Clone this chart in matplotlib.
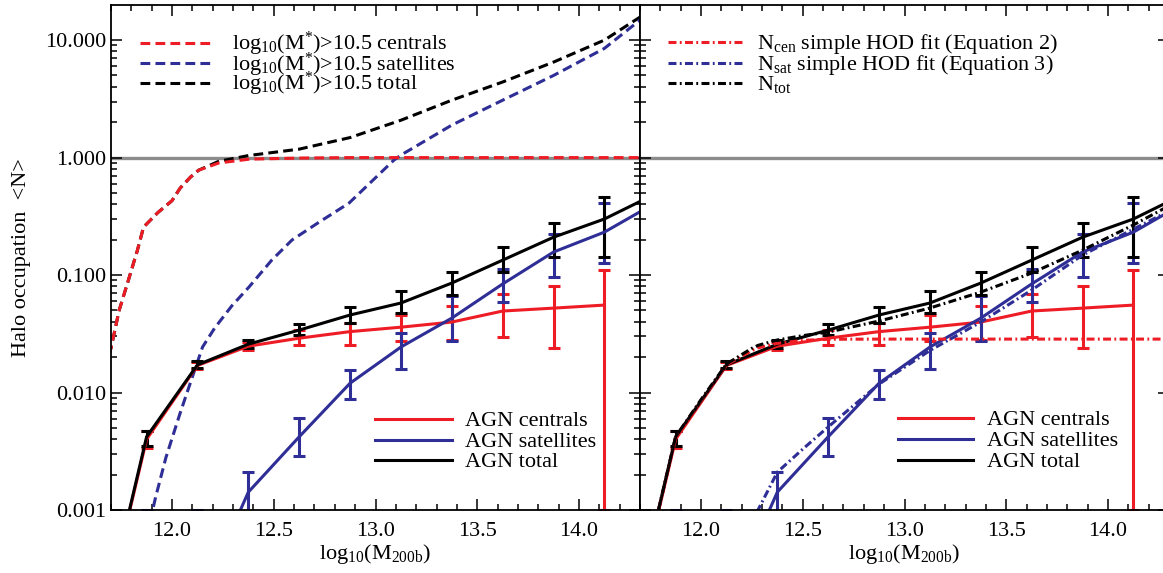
import numpy as np
import matplotlib
matplotlib.use('Agg')
import matplotlib.pyplot as plt
from matplotlib.ticker import FixedLocator, MultipleLocator, LogLocator, NullFormatter, FuncFormatter

plt.rcParams['font.family'] = ['Liberation Serif', 'DejaVu Serif']
plt.rcParams['mathtext.fontset'] = 'custom'
plt.rcParams['mathtext.rm'] = 'Liberation Serif'
plt.rcParams['mathtext.it'] = 'Liberation Serif:italic'
plt.rcParams['font.size'] = 16
plt.rcParams['axes.linewidth'] = 1.3

RED = '#ee1c25'
BLUE = '#2e2e96'
BLACK = '#000000'
GREY = '#8c8c8c'

# AGN halo occupation (bin centres in log10 M200b)
x_agn = [11.625, 11.875, 12.125, 12.375, 12.625, 12.875, 13.125, 13.375, 13.625, 13.875, 14.125, 14.375]
cen_agn = [6e-5, 0.0040, 0.0170, 0.0248, 0.0290, 0.0330, 0.0360, 0.0398, 0.0494, 0.0523, 0.0555, np.nan]
sat_agn = [1e-5, 1e-5, 1.5e-4, 0.00142, 0.0042, 0.0120, 0.0244, 0.0430, 0.0840, 0.157, 0.232, 0.41]
tot_agn = [6e-5, 0.0042, 0.0172, 0.0258, 0.0340, 0.0457, 0.0578, 0.0855, 0.134, 0.210, 0.300, 0.49]

# error bar ranges (low, high) for bins 11.875 ... 14.125
x_err = [11.875, 12.125, 12.375, 12.625, 12.875, 13.125, 13.375, 13.625, 13.875, 14.125]
cen_lo = [0.0034, 0.0160, 0.0232, 0.0253, 0.0253, 0.0274, 0.0280, 0.0296, 0.0239, 0.001]
cen_hi = [0.0047, 0.0182, 0.0268, 0.0340, 0.0390, 0.0457, 0.0545, 0.0690, 0.0806, 0.110]
sat_lo = [1e-6, 1e-6, 0.0005, 0.0029, 0.0088, 0.0160, 0.0274, 0.0590, 0.096, 0.126]
sat_hi = [0.001, 0.001, 0.0021, 0.0061, 0.0155, 0.0320, 0.0660, 0.112, 0.223, 0.410]
tot_lo = [0.0035, 0.0162, 0.0240, 0.0310, 0.0390, 0.0475, 0.0676, 0.106, 0.142, 0.142]
tot_hi = [0.0047, 0.0185, 0.0280, 0.0380, 0.0535, 0.0731, 0.106, 0.173, 0.277, 0.461]

# galaxies with log10(M*) > 10.5
x_gcen = [11.625, 11.70, 11.74, 11.79, 11.83, 11.86, 11.93, 12.0, 12.04, 12.09, 12.13, 12.23, 12.38, 12.625,
          12.875, 13.125, 13.375, 13.625, 13.875, 14.125, 14.375]
gcen = [0.009, 0.0239, 0.050, 0.096, 0.163, 0.256, 0.34, 0.43, 0.55, 0.68, 0.78, 0.90, 0.97, 0.99,
        1.0, 1.0, 1.0, 1.0, 1.0, 1.0, 1.0]
x_gsat = [11.875, 11.92, 11.97, 12.04, 12.10, 12.15, 12.21, 12.295, 12.378, 12.49, 12.59, 12.72, 12.87,
          13.09, 13.125, 13.375, 13.625, 13.875, 14.125, 14.30, 14.375]
gsat = [0.0006, 0.0013, 0.0028, 0.0067, 0.0136, 0.0244, 0.0355, 0.055, 0.079, 0.134, 0.199, 0.28, 0.41,
        0.95, 1.05, 1.89, 3.08, 5.0, 8.5, 14.8, 18.0]
x_gtot = [11.625, 11.70, 11.74, 11.79, 11.83, 11.86, 11.93, 12.0, 12.04, 12.09, 12.13, 12.23, 12.375, 12.625,
          12.875, 13.125, 13.375, 13.625, 13.875, 14.125, 14.30, 14.375]
gtot = [0.009, 0.0239, 0.050, 0.096, 0.163, 0.256, 0.34, 0.43, 0.55, 0.68, 0.78, 0.93, 1.04, 1.18,
        1.48, 2.08, 3.08, 4.4, 6.5, 10.0, 15.7, 18.5]

# simple HOD fits (right panel)
x_fit = [11.625, 11.75, 11.875, 12.0, 12.125, 12.25, 12.28, 12.375, 12.5, 12.625, 12.875, 13.125, 13.375,
         13.625, 13.875, 14.125, 14.28, 14.375]
fit_cen = [6e-5, 0.0005, 0.0041, 0.0086, 0.0172, 0.0228, 0.0240, 0.0262, 0.0278, 0.0284, 0.0285, 0.0285,
           0.0285, 0.0285, 0.0285, 0.0285, 0.0285, 0.0285]
fit_sat = [1e-7, 1e-6, 1e-5, 5e-5, 2e-4, 0.0007, 0.001, 0.0021, 0.0033, 0.0051, 0.0118, 0.0228, 0.0398,
           0.0745, 0.148, 0.246, 0.337, 0.40]
fit_tot = [6e-5, 0.0005, 0.0042, 0.0087, 0.0175, 0.0238, 0.0252, 0.0280, 0.0305, 0.0327, 0.0406, 0.0524,
           0.0716, 0.104, 0.163, 0.267, 0.372, 0.45]

W, H = 1163, 573
AW, AH = 529, 505
fig = plt.figure(figsize=(W / 100, H / 100), dpi=100)
ax1 = fig.add_axes([111 / W, (H - 510) / H, AW / W, AH / H])
ax2 = fig.add_axes([640 / W, (H - 510) / H, AW / W, AH / H])

dash = (0, (3.2, 1.7))
dashdot = (0, (2.6, 1.1, 0.6, 1.1))
LW = 2.2


def errs(vals, lo, hi):
    v = np.array([vals[x_agn.index(x)] for x in x_err])
    return v, [v - np.array(lo), np.array(hi) - v]


def draw_agn(ax):
    for vals, lo, hi, c in [(cen_agn, cen_lo, cen_hi, RED), (sat_agn, sat_lo, sat_hi, BLUE),
                            (tot_agn, tot_lo, tot_hi, BLACK)]:
        v, e = errs(vals, lo, hi)
        ax.errorbar(x_err, v, yerr=e, fmt='none', ecolor=c, elinewidth=LW, capsize=4.3, capthick=LW)
    l1, = ax.plot(x_agn, cen_agn, color=RED, lw=LW)
    l2, = ax.plot(x_agn, sat_agn, color=BLUE, lw=LW)
    l3, = ax.plot(x_agn, tot_agn, color=BLACK, lw=LW)
    return [l1, l2, l3]


def key(ax, rows, hx0, hx1, tx, ys, ls):
    # legend drawn in axes pixels measured from the top-left corner
    for (label, color), y in zip(rows, ys):
        fy = 1 - y / AH
        ax.plot([hx0 / AW, hx1 / AW], [fy, fy], transform=ax.transAxes, color=color, lw=LW, ls=ls,
                clip_on=False)
        ax.text(tx / AW, 1 - (y + 7) / AH, label, transform=ax.transAxes, va='baseline', ha='left',
                fontsize=16)


def style(ax, labels=True):
    ax.set_yscale('log')
    ax.set_xlim(11.7, 14.3)
    ax.set_ylim(0.001, 19.9)
    ax.axhline(1.0, color=GREY, lw=2.4, zorder=1)
    ax.xaxis.set_major_locator(MultipleLocator(0.5))
    ax.xaxis.set_minor_locator(MultipleLocator(0.1))
    ax.xaxis.set_major_formatter(FuncFormatter(lambda v, p: '%.1f' % v))
    ax.yaxis.set_major_locator(FixedLocator([0.001, 0.01, 0.1, 1, 10]))
    ax.yaxis.set_minor_locator(LogLocator(base=10, subs=np.arange(2, 10)))
    ax.yaxis.set_minor_formatter(NullFormatter())
    if labels:
        ax.yaxis.set_major_formatter(FuncFormatter(lambda v, p: '%.3f' % v))
    else:
        ax.yaxis.set_major_formatter(NullFormatter())
    ax.tick_params(which='both', direction='in', top=True, right=True, width=1.1, labelsize=16)
    ax.tick_params(which='major', length=8)
    ax.tick_params(which='minor', length=4.2)
    ax.tick_params(axis='x', pad=9)
    ax.set_xlabel(r'log$_{10}$(M$_{\rm 200b}$)', fontsize=16, labelpad=0)


# left panel
style(ax1)
ax1.plot(x_gtot, gtot, color=BLACK, lw=LW, ls=dash)
ax1.plot(x_gsat, gsat, color=BLUE, lw=LW, ls=dash)
ax1.plot(x_gcen, gcen, color=RED, lw=LW, ls=dash)
draw_agn(ax1)
ax1.set_ylabel('Halo occupation  <N>', fontsize=16, labelpad=10)
key(ax1, [(r'log$_{10}$(M$^{*}$)>10.5 centrals', RED),
          (r'log$_{10}$(M$^{*}$)>10.5 satellites', BLUE),
          (r'log$_{10}$(M$^{*}$)>10.5 total', BLACK)], 29, 101, 121, [37.7, 58.3, 78.3], dash)
key(ax1, [('AGN centrals', RED), ('AGN satellites', BLUE), ('AGN total', BLACK)],
    264, 341, 354, [414, 435, 455], '-')

# right panel
style(ax2, labels=False)
draw_agn(ax2)
ax2.plot(x_fit, fit_cen, color=RED, lw=LW, ls=dashdot)
ax2.plot(x_fit, fit_sat, color=BLUE, lw=LW, ls=dashdot)
ax2.plot(x_fit, fit_tot, color=BLACK, lw=LW, ls=dashdot)
key(ax2, [(r'N$_{\rm cen}$ simple HOD fit (Equation 2)', RED),
          (r'N$_{\rm sat}$ simple HOD fit (Equation 3)', BLUE),
          (r'N$_{\rm tot}$', BLACK)], 28, 105, 117, [36.7, 57.7, 78.3], dashdot)
key(ax2, [('AGN centrals', RED), ('AGN satellites', BLUE), ('AGN total', BLACK)],
    258, 333, 347, [413, 434, 455], '-')

fig.savefig('out.png', dpi=100)
